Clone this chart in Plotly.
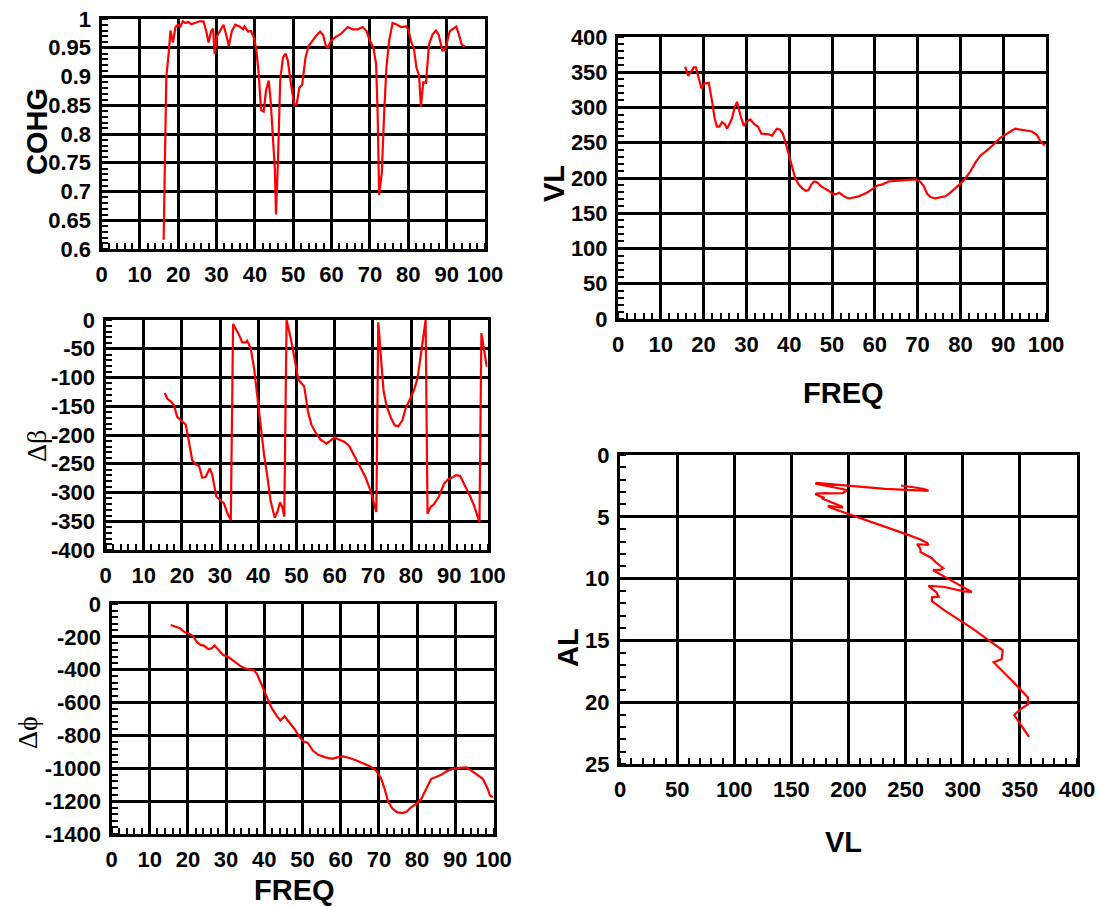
import plotly.graph_objects as go

# ---------------- data ----------------
cohg_freq = [16.2, 16.9, 17.5, 18.0, 18.6, 19.3, 19.9, 20.6, 21.2, 21.9, 22.6, 23.4, 24.3, 25.6, 26.6,
             27.3, 27.9, 28.6, 29.1, 29.5, 30.1, 31.0, 31.8, 32.5, 33.2, 34.0, 34.9, 36.0, 36.9, 37.3,
             38.2, 39.0, 39.6, 40.3, 41.0, 41.6, 42.3, 42.9, 43.6, 44.1, 44.7, 45.2, 45.5, 46.0, 46.6,
             47.3, 48.0, 48.6, 49.4, 50.3, 50.9, 51.6, 52.3, 53.2, 54.0, 55.1, 56.1, 57.0, 57.8, 58.5,
             59.0, 59.8, 61.1, 62.4, 64.2, 65.5, 66.8, 68.1, 69.1, 70.0, 70.9, 71.6, 72.0, 72.4, 73.1,
             73.7, 74.3, 75.0, 75.9, 76.8, 78.1, 79.4, 80.0, 80.7, 81.5, 82.1, 82.8, 83.3, 83.9, 84.6,
             85.4, 86.3, 87.2, 87.9, 88.9, 89.6, 90.2, 90.8, 91.7, 92.5, 93.2, 93.9, 94.7]
cohg = [0.616, 0.899, 0.939, 0.980, 0.959, 0.986, 0.990, 0.987, 0.996, 0.993, 0.995, 0.991, 0.993, 0.996, 0.996,
        0.979, 0.959, 0.979, 0.983, 0.939, 0.970, 0.982, 0.990, 0.973, 0.953, 0.979, 0.990, 0.987, 0.982, 0.987,
        0.978, 0.979, 0.970, 0.950, 0.905, 0.842, 0.839, 0.876, 0.893, 0.859, 0.796, 0.739, 0.660, 0.750, 0.893,
        0.933, 0.940, 0.927, 0.887, 0.850, 0.852, 0.881, 0.885, 0.933, 0.953, 0.963, 0.972, 0.978, 0.972, 0.953,
        0.950, 0.962, 0.969, 0.974, 0.986, 0.982, 0.982, 0.986, 0.979, 0.962, 0.950, 0.922, 0.836, 0.694, 0.733,
        0.836, 0.916, 0.962, 0.993, 0.991, 0.986, 0.987, 0.982, 0.962, 0.947, 0.916, 0.902, 0.847, 0.890, 0.889,
        0.956, 0.973, 0.980, 0.973, 0.945, 0.946, 0.962, 0.979, 0.983, 0.987, 0.973, 0.956, 0.952]

dbeta_freq = [15.5, 16.2, 17.0, 17.9, 18.8, 19.8, 21.0, 21.8, 22.7, 23.6, 24.5, 25.3, 26.2, 27.3, 27.9,
              29.0, 30.1, 31.0, 31.9, 32.8, 33.4, 34.3, 34.9, 35.8, 36.7, 37.1, 38.0, 38.9, 39.7, 40.6,
              41.5, 42.4, 43.2, 44.3, 45.0, 45.7, 46.3, 46.8, 47.4, 48.5, 49.5, 50.5, 51.3, 52.0, 53.0,
              53.9, 55.0, 56.3, 57.9, 59.0, 60.0, 61.1, 62.6, 63.8, 65.1, 66.6, 68.1, 69.4, 70.3, 70.9,
              71.4, 72.1, 72.8, 73.6, 74.7, 75.7, 76.6, 77.7, 78.6, 79.7, 80.8, 81.7, 82.5, 83.2, 83.8,
              84.3, 85.0, 86.0, 87.3, 88.6, 89.7, 90.8, 91.7, 92.8, 93.9, 95.2, 96.5, 97.4, 97.9, 98.4,
              99.1, 99.8]
dbeta = [-127, -137, -141, -148, -169, -175, -182, -210, -244, -251, -254, -274, -273, -258, -268,
         -307, -313, -319, -336, -348, -7, -17, -25, -39, -39, -36, -49, -84, -130, -182,
         -234, -274, -314, -344, -334, -317, -326, -342, 0, -32, -66, -104, -110, -115, -159,
         -182, -196, -208, -215, -209, -204, -208, -212, -219, -236, -254, -274, -297, -320, -334,
         -4, -66, -124, -150, -170, -183, -185, -175, -153, -138, -121, -101, -61, -26, 0,
         -337, -326, -320, -307, -285, -277, -274, -270, -271, -285, -303, -323, -340, -352, -23,
         -49, -81]

dphi_freq = [15.5, 16.6, 17.9, 19.2, 20.5, 21.4, 22.4, 23.3, 24.2, 25.3, 26.2, 27.0, 27.6, 29.2, 30.3,
             31.4, 32.5, 33.6, 34.9, 36.2, 37.2, 38.1, 39.2, 40.5, 41.8, 43.2, 44.2, 45.3, 46.6, 48.0,
             49.3, 50.3, 51.4, 52.7, 54.1, 55.8, 57.8, 59.3, 60.6, 62.3, 64.1, 65.8, 67.6, 69.3, 70.6,
             71.5, 72.4, 73.5, 74.7, 76.1, 77.3, 78.5, 79.8, 81.1, 82.4, 83.7, 84.8, 86.3, 87.6, 89.4,
             91.1, 92.9, 94.2, 95.5, 97.2, 98.3, 99.1, 99.8]
dphi = [-128, -138, -148, -172, -182, -197, -233, -249, -253, -274, -270, -253, -270, -310, -318,
        -339, -355, -375, -391, -399, -401, -426, -486, -568, -628, -679, -709, -683, -720, -764,
        -811, -837, -845, -892, -918, -932, -943, -932, -928, -937, -953, -969, -987, -1014, -1064,
        -1125, -1202, -1243, -1267, -1273, -1263, -1236, -1216, -1186, -1125, -1064, -1054, -1040, -1020, -1003,
        -997, -995, -1014, -1034, -1064, -1115, -1166, -1176]

vl_freq = [15.7, 16.4, 17.1, 17.7, 18.2, 18.8, 19.5, 20.2, 21.2, 22.0, 22.6, 23.1, 23.7, 24.3, 24.9,
           25.5, 26.0, 26.6, 27.3, 27.8, 28.6, 29.4, 30.1, 30.9, 31.9, 32.7, 33.5, 34.4, 35.2, 36.0,
           36.6, 37.1, 37.8, 38.5, 39.1, 39.9, 40.7, 41.4, 42.2, 43.1, 43.9, 44.5, 45.2, 45.8, 46.5,
           47.3, 48.3, 49.2, 50.2, 50.9, 51.7, 52.3, 53.1, 54.0, 55.1, 56.2, 57.4, 58.4, 59.3, 60.5,
           61.8, 63.2, 64.8, 66.4, 67.9, 69.5, 70.6, 71.4, 72.2, 73.0, 74.1, 75.3, 76.5, 77.6, 78.8,
           80.0, 81.1, 82.3, 83.5, 84.7, 85.8, 87.0, 88.2, 89.3, 90.5, 91.7, 92.8, 94.0, 95.2, 96.7,
           97.9, 98.7, 99.7]
vl = [358, 345, 351, 357, 357, 343, 327, 334, 335, 308, 284, 273, 273, 279, 277,
      270, 276, 284, 301, 308, 289, 274, 280, 283, 276, 273, 263, 263, 262, 260,
      265, 270, 269, 263, 251, 232, 214, 200, 191, 185, 182, 183, 191, 195, 194,
      189, 185, 182, 177, 177, 179, 176, 173, 171, 172, 174, 177, 180, 184, 189,
      191, 195, 196, 197, 198, 198, 195, 189, 178, 173, 171, 172, 174, 179, 185,
      192, 199, 209, 222, 232, 237, 243, 250, 257, 261, 266, 270, 269, 268, 266,
      261, 252, 246]
al = [22.80, 21.04, 20.53, 20.17, 19.62, 18.24, 16.77, 16.53, 15.80, 14.00, 12.57, 11.82, 11.52, 11.48, 11.12,
      10.59, 10.62, 10.68, 11.03, 11.08, 10.10, 9.32, 9.30, 9.16, 8.65, 8.35, 7.85, 7.65, 7.44, 7.22,
      7.24, 7.28, 7.12, 6.83, 6.42, 5.81, 5.26, 4.83, 4.53, 4.29, 4.15, 4.11, 4.23, 4.26, 4.17,
      4.00, 3.83, 3.70, 3.53, 3.48, 3.46, 3.37, 3.26, 3.17, 3.12, 3.10, 3.08, 3.08, 3.10, 3.12,
      3.09, 3.09, 3.02, 2.97, 2.92, 2.85, 2.76, 2.65, 2.47, 2.37, 2.31, 2.28, 2.27, 2.31, 2.35,
      2.40, 2.45, 2.54, 2.66, 2.74, 2.76, 2.79, 2.83, 2.88, 2.88, 2.90, 2.91, 2.86, 2.82, 2.75,
      2.67, 2.55, 2.47]

freq_ticks = [0, 10, 20, 30, 40, 50, 60, 70, 80, 90, 100]
freq_labels = ["0", "10", "20", "30", "40", "50", "60", "70", "80", "90", "100"]
cohg_ticks = [0.6, 0.65, 0.7, 0.75, 0.8, 0.85, 0.9, 0.95, 1.0]
cohg_labels = ["0.6", "0.65", "0.7", "0.75", "0.8", "0.85", "0.9", "0.95", "1"]
dbeta_ticks = [-400, -350, -300, -250, -200, -150, -100, -50, 0]
dbeta_labels = ["-400", "-350", "-300", "-250", "-200", "-150", "-100", "-50", "0"]
dphi_ticks = [-1400, -1200, -1000, -800, -600, -400, -200, 0]
dphi_labels = ["-1400", "-1200", "-1000", "-800", "-600", "-400", "-200", "0"]
vl_ticks = [0, 50, 100, 150, 200, 250, 300, 350, 400]
vl_labels = ["0", "50", "100", "150", "200", "250", "300", "350", "400"]
al_ticks = [0, 5, 10, 15, 20, 25]
al_labels = ["0", "5", "10", "15", "20", "25"]

# ---------------- styling ----------------
W, H = 1100, 907
SANS = "Liberation Sans, Arial, Helvetica, sans-serif"
RED = "#ff0000"


def px_dom_x(a, b):
    return [a / W, b / W]


def px_dom_y(top, bottom):
    return [1 - bottom / H, 1 - top / H]


def axis(domain, rng, tickvals, ticktext, minor_dtick, anchor, standoff):
    return dict(
        domain=domain, range=rng, anchor=anchor, automargin=False,
        tickmode="array", tickvals=tickvals, ticktext=["<b>%s</b>" % t for t in ticktext],
        showgrid=True, gridcolor="black", gridwidth=2.5,
        showline=True, linecolor="black", linewidth=3, mirror=True,
        ticks="", zeroline=False,
        tickfont=dict(family=SANS, size=22, color="black"),
        ticklabelstandoff=standoff,
        minor=dict(dtick=minor_dtick, tick0=0, ticks="inside", ticklen=6, tickwidth=2,
                   tickcolor="black", showgrid=False),
        fixedrange=True,
    )


fig = go.Figure()
line = dict(color=RED, width=2.2)
fig.add_trace(go.Scatter(x=cohg_freq, y=cohg, mode="lines", line=line, xaxis="x", yaxis="y"))
fig.add_trace(go.Scatter(x=dbeta_freq, y=dbeta, mode="lines", line=line, xaxis="x2", yaxis="y2"))
fig.add_trace(go.Scatter(x=dphi_freq, y=dphi, mode="lines", line=line, xaxis="x3", yaxis="y3"))
fig.add_trace(go.Scatter(x=vl_freq, y=vl, mode="lines", line=line, xaxis="x4", yaxis="y4"))
fig.add_trace(go.Scatter(x=vl, y=al, mode="lines", line=line, xaxis="x5", yaxis="y5"))

XS, YS = 4, 3
fig.update_layout(
    template="none",
    font=dict(family=SANS, size=22, color="black"),
    width=W, height=H, margin=dict(l=0, r=0, t=0, b=0, autoexpand=False),
    paper_bgcolor="white", plot_bgcolor="white", showlegend=False,
    xaxis=axis(px_dom_x(101.5, 485), [0, 100], freq_ticks, freq_labels, 2, "y", XS),
    yaxis=axis(px_dom_y(19, 249), [0.6, 1], cohg_ticks, cohg_labels, 0.01, "x", YS),
    xaxis2=axis(px_dom_x(105.5, 487.5), [0, 100], freq_ticks, freq_labels, 2, "y2", XS),
    yaxis2=axis(px_dom_y(320, 550), [-400, 0], dbeta_ticks, dbeta_labels, 10, "x2", YS),
    xaxis3=axis(px_dom_x(111.5, 493.5), [0, 100], freq_ticks, freq_labels, 2, "y3", XS),
    yaxis3=axis(px_dom_y(604, 834), [-1400, 0], dphi_ticks, dphi_labels, 40, "x3", YS),
    xaxis4=axis(px_dom_x(618, 1046), [0, 100], freq_ticks, freq_labels, 2, "y4", XS),
    yaxis4=axis(px_dom_y(37, 319), [0, 400], vl_ticks, vl_labels, 10, "x4", YS),
    xaxis5=axis(px_dom_x(620, 1077), [0, 400], vl_ticks, vl_labels, 10, "y5", XS),
    yaxis5=axis(px_dom_y(455, 764), [25, 0], al_ticks, al_labels, 1, "x5", YS),
)

TITLE = dict(family=SANS, size=29, color="black")
SERIF = dict(family="Liberation Serif, DejaVu Serif, serif", size=28, color="black")


def note(text, xpx, ypx, font, angle=0):
    fig.add_annotation(text=text, x=xpx / W, y=1 - ypx / H, xref="paper", yref="paper",
                       showarrow=False, xanchor="center", yanchor="middle",
                       textangle=angle, font=font)


note("<b>COHG</b>", 37, 132, TITLE, -90)
note("Δβ", 36, 446, SERIF, -90)
note("Δϕ", 27, 733, SERIF, -90)
note("<b>FREQ</b>", 294, 890, TITLE)
note("<b>VL</b>", 554, 184, TITLE, -90)
note("<b>FREQ</b>", 843, 393, TITLE)
note("<b>AL</b>", 568, 648, TITLE, -90)
note("<b>VL</b>", 843, 842, TITLE)

fig.write_html("out.html")
